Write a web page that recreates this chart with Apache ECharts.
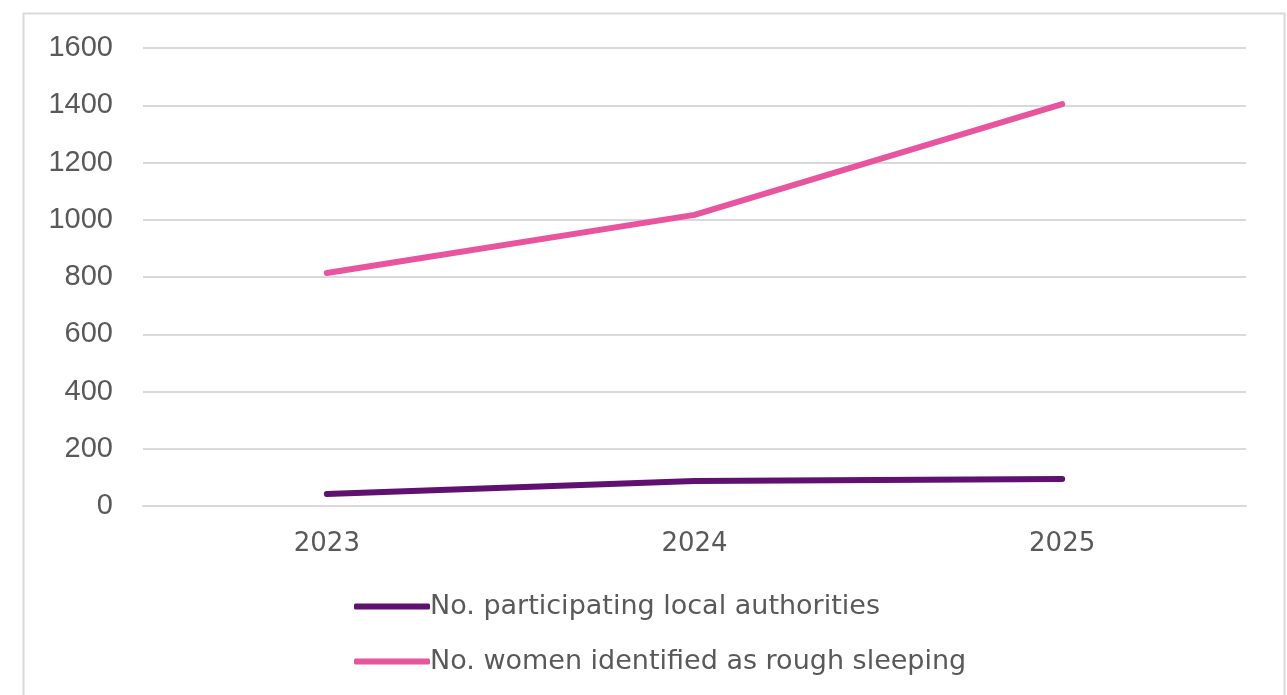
<!DOCTYPE html>
<html>
<head>
<meta charset="utf-8">
<script src="https://cdn.jsdelivr.net/npm/echarts@6/dist/echarts.min.js"></script>
<style>
  html, body { margin: 0; padding: 0; background: #fff; }
  #chart { width: 1287px; height: 695px; }
</style>
</head>
<body>
<div id="chart"></div>
<script>
// data
var years = ['2023', '2024', '2025'];
var localAuthorities = [42, 87, 94];
var womenRoughSleeping = [814, 1017, 1404];
var seriesNames = ['No. participating local authorities', 'No. women identified as rough sleeping'];

var chart = echarts.init(document.getElementById('chart'));
var option = {
  animation: false,
  backgroundColor: '#fff',
  graphic: [{
    type: 'rect',
    shape: { x: 23.5, y: 13.5, width: 1261, height: 700 },
    style: { fill: 'none', stroke: '#d9d9d9', lineWidth: 2 },
    silent: true
  }],
  grid: {
    left: 143,
    right: 41,
    top: 48,
    bottom: 189
  },
  legend: {
    orient: 'vertical',
    left: 349,
    top: 588,
    itemWidth: 76,
    itemHeight: 6,
    itemGap: 28,
    icon: 'roundRect',
    textStyle: { fontSize: 27, color: '#595959', fontFamily: '"DejaVu Sans", sans-serif', padding: [0, 0, 0, -5] },
    data: seriesNames
  },
  xAxis: {
    type: 'category',
    data: years,
    boundaryGap: true,
    axisLine: { show: true, lineStyle: { color: '#d9d9d9', width: 2 } },
    axisTick: { show: false },
    axisLabel: { fontSize: 26, color: '#595959', fontFamily: '"DejaVu Sans", sans-serif', margin: 25 }
  },
  yAxis: {
    type: 'value',
    min: 0,
    max: 1600,
    interval: 200,
    axisLine: { show: false },
    axisTick: { show: false },
    axisLabel: {
      fontSize: 29, color: '#595959', fontFamily: '"Liberation Sans", Arial, sans-serif', margin: 30,
      formatter: function (v) { return String(v); }
    },
    splitLine: { lineStyle: { color: '#d9d9d9', width: 2 } }
  },
  series: [{
    name: seriesNames[0],
    type: 'line',
    data: localAuthorities,
    symbol: 'none',
    color: '#5f1070',
    lineStyle: { width: 6, cap: 'round' }
  }, {
    name: seriesNames[1],
    type: 'line',
    data: womenRoughSleeping,
    symbol: 'none',
    color: '#e8559e',
    lineStyle: { width: 6, cap: 'round' }
  }]
};
chart.setOption(option);
</script>
</body>
</html>
